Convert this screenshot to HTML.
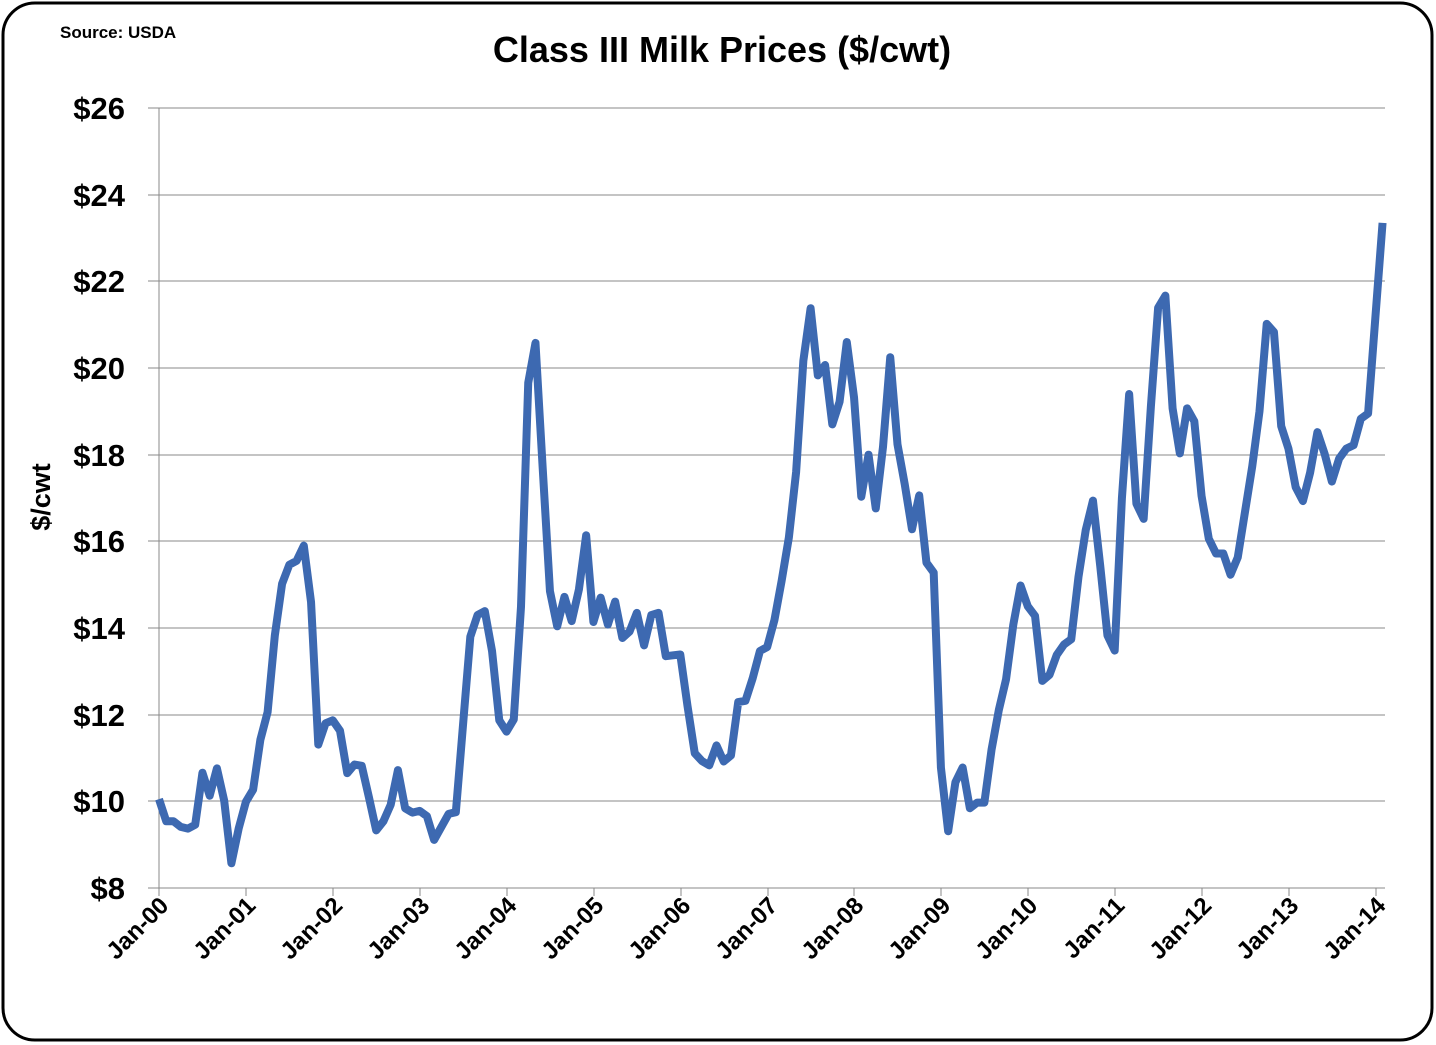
<!DOCTYPE html>
<html><head><meta charset="utf-8"><style>
body{margin:0;background:#fff;}
svg{display:block;font-family:"Liberation Sans",sans-serif;}
</style></head><body>
<svg width="1436" height="1045" viewBox="0 0 1436 1045">
<rect x="3" y="3" width="1429" height="1037" rx="32" ry="32" fill="#fff" stroke="#000" stroke-width="3"/>
<text x="60" y="38" font-size="17" font-weight="bold">Source: USDA</text>
<text x="722" y="62" font-size="36" font-weight="bold" text-anchor="middle">Class III Milk Prices ($/cwt)</text>
<g stroke="#888" stroke-width="1">
<line x1="148" y1="108" x2="1385" y2="108"/>
<line x1="148" y1="195" x2="1385" y2="195"/>
<line x1="148" y1="281" x2="1385" y2="281"/>
<line x1="148" y1="368" x2="1385" y2="368"/>
<line x1="148" y1="455" x2="1385" y2="455"/>
<line x1="148" y1="541" x2="1385" y2="541"/>
<line x1="148" y1="628" x2="1385" y2="628"/>
<line x1="148" y1="715" x2="1385" y2="715"/>
<line x1="148" y1="801" x2="1385" y2="801"/>
<line x1="159" y1="108" x2="159" y2="888"/>
<line x1="148" y1="888" x2="1385" y2="888"/>
</g>
<g stroke="#888" stroke-width="1">
<line x1="159" y1="888" x2="159" y2="896"/><line x1="246" y1="888" x2="246" y2="896"/><line x1="333" y1="888" x2="333" y2="896"/><line x1="420" y1="888" x2="420" y2="896"/><line x1="507" y1="888" x2="507" y2="896"/><line x1="594" y1="888" x2="594" y2="896"/><line x1="681" y1="888" x2="681" y2="896"/><line x1="768" y1="888" x2="768" y2="896"/><line x1="854" y1="888" x2="854" y2="896"/><line x1="941" y1="888" x2="941" y2="896"/><line x1="1028" y1="888" x2="1028" y2="896"/><line x1="1115" y1="888" x2="1115" y2="896"/><line x1="1202" y1="888" x2="1202" y2="896"/><line x1="1289" y1="888" x2="1289" y2="896"/><line x1="1376" y1="888" x2="1376" y2="896"/>
</g>
<g font-size="31" font-weight="bold" text-anchor="end">
<text x="125" y="119">$26</text><text x="125" y="206">$24</text><text x="125" y="292">$22</text><text x="125" y="379">$20</text><text x="125" y="466">$18</text><text x="125" y="552">$16</text><text x="125" y="639">$14</text><text x="125" y="726">$12</text><text x="125" y="812">$10</text><text x="125" y="899">$8</text>
</g>
<text transform="translate(50,497) rotate(-90)" font-size="27" font-weight="bold" text-anchor="middle">$/cwt</text>
<g font-size="24" font-weight="bold" text-anchor="end">
<text transform="translate(170,907) rotate(-45)">Jan-00</text>
<text transform="translate(257,907) rotate(-45)">Jan-01</text>
<text transform="translate(344,907) rotate(-45)">Jan-02</text>
<text transform="translate(431,907) rotate(-45)">Jan-03</text>
<text transform="translate(518,907) rotate(-45)">Jan-04</text>
<text transform="translate(605,907) rotate(-45)">Jan-05</text>
<text transform="translate(692,907) rotate(-45)">Jan-06</text>
<text transform="translate(779,907) rotate(-45)">Jan-07</text>
<text transform="translate(865,907) rotate(-45)">Jan-08</text>
<text transform="translate(952,907) rotate(-45)">Jan-09</text>
<text transform="translate(1039,907) rotate(-45)">Jan-10</text>
<text transform="translate(1126,907) rotate(-45)">Jan-11</text>
<text transform="translate(1213,907) rotate(-45)">Jan-12</text>
<text transform="translate(1300,907) rotate(-45)">Jan-13</text>
<text transform="translate(1387,907) rotate(-45)">Jan-14</text>
</g>
<g transform="translate(159,888) scale(7.24,-43.33) translate(0,-8)">
<polyline fill="none" stroke="#3d69b1" stroke-width="8" stroke-linejoin="round" vector-effect="non-scaling-stroke" points="
0,10.05 1,9.54 2,9.54 3,9.41 4,9.37 5,9.46 6,10.66 7,10.13 8,10.76 9,10.02 10,8.57 11,9.37
12,9.99 13,10.27 14,11.42 15,12.06 16,13.83 17,15.02 18,15.46 19,15.55 20,15.90 21,14.60 22,11.31 23,11.80
24,11.87 25,11.63 26,10.65 27,10.85 28,10.82 29,10.09 30,9.33 31,9.54 32,9.92 33,10.72 34,9.84 35,9.74
36,9.78 37,9.66 38,9.11 39,9.41 40,9.71 41,9.75 42,11.78 43,13.80 44,14.30 45,14.39 46,13.47 47,11.87
48,11.61 49,11.89 50,14.49 51,19.66 52,20.58 53,17.68 54,14.85 55,14.04 56,14.72 57,14.16 58,14.89 59,16.14
60,14.14 61,14.70 62,14.08 63,14.61 64,13.77 65,13.92 66,14.35 67,13.60 68,14.30 69,14.35 70,13.35 71,13.37
72,13.39 73,12.20 74,11.11 75,10.93 76,10.83 77,11.29 78,10.92 79,11.06 80,12.29 81,12.32 82,12.84 83,13.47
84,13.56 85,14.18 86,15.09 87,16.09 88,17.60 89,20.17 90,21.38 91,19.83 92,20.07 93,18.70 94,19.22 95,20.60
96,19.32 97,17.03 98,18.00 99,16.76 100,18.18 101,20.25 102,18.24 103,17.32 104,16.28 105,17.06 106,15.51 107,15.28
108,10.78 109,9.31 110,10.44 111,10.78 112,9.84 113,9.97 114,9.97 115,11.20 116,12.11 117,12.82 118,14.08 119,14.98
120,14.50 121,14.28 122,12.78 123,12.92 124,13.38 125,13.62 126,13.74 127,15.18 128,16.26 129,16.94 130,15.44 131,13.83
132,13.48 133,17.00 134,19.40 135,16.87 136,16.52 137,19.11 138,21.39 139,21.67 140,19.07 141,18.03 142,19.07 143,18.77
144,17.05 145,16.06 146,15.72 147,15.72 148,15.23 149,15.63 150,16.68 151,17.73 152,19.00 153,21.02 154,20.83 155,18.66
156,18.14 157,17.25 158,16.93 159,17.59 160,18.52 161,18.02 162,17.38 163,17.91 164,18.14 165,18.22 166,18.83 167,18.95
168,21.15 169,23.35"/>
</g>
</svg>
</body></html>
